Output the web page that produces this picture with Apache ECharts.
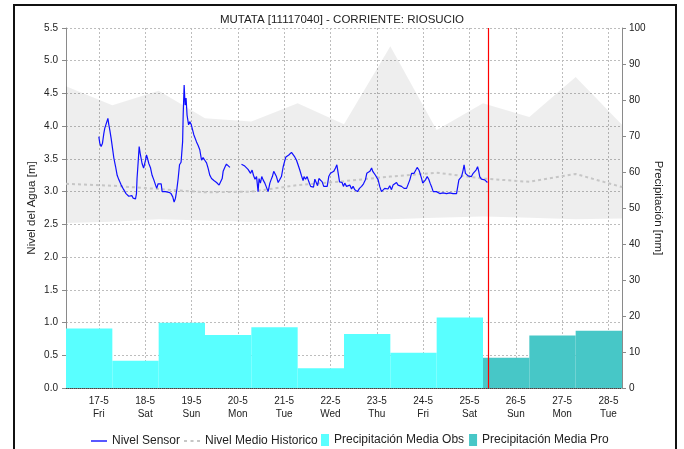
<!DOCTYPE html>
<html>
<head>
<meta charset="utf-8">
<script src="https://cdn.jsdelivr.net/npm/echarts@6/dist/echarts.min.js"></script>
<style>
  html, body { margin: 0; padding: 0; background: #fff; }
  #chart { width: 684px; height: 449px; }
</style>
</head>
<body>
<div id="chart"></div>
<script>
// Station hydrograph: sensor level, historic band, daily precipitation
const chartTitle = 'MUTATA [11117040] - CORRIENTE: RIOSUCIO';

// Day labels (ticks at 00:00 of each day)
const dayDates = ['17-5', '18-5', '19-5', '20-5', '21-5', '22-5', '23-5', '24-5', '25-5', '26-5', '27-5', '28-5'];
const dayNames = ['Fri', 'Sat', 'Sun', 'Mon', 'Tue', 'Wed', 'Thu', 'Fri', 'Sat', 'Sun', 'Mon', 'Tue'];

// Time is in hours counted from 17-5 00:00; the axis runs 16-5 07:00 .. 28-5 07:00
const axisStartHour = -17;
const axisEndHour = 271;
const nowHour = 201.6;

// Historic statistics (07:00 of each day)
const histHour = [-17, 7, 31, 55, 79, 103, 127, 151, 175, 199, 223, 247, 271];
const histMin  = [2.52, 2.54, 2.58, 2.56, 2.54, 2.56, 2.57, 2.58, 2.60, 2.62, 2.60, 2.58, 2.59];
const histMax  = [4.61, 4.32, 4.54, 4.12, 4.07, 4.35, 4.03, 5.22, 3.94, 4.35, 4.14, 4.75, 4.02];
const histMean = [3.12, 3.09, 3.04, 2.99, 3.00, 3.10, 3.16, 3.23, 3.29, 3.20, 3.15, 3.27, 3.07];

// Sensor readings
const sensorHour = [
  0, 0.5, 1.2, 1.9, 2.6, 3.1, 3.6, 4.1, 4.7, 5.2,
  5.7, 6.4, 7.1, 7.8, 8.7, 9.5, 10.4, 11.6, 12.9, 14.1,
  15.5, 16.4, 17.1, 17.8, 19.0, 19.5, 19.8, 20.4, 20.9, 21.4,
  21.9, 22.4, 23.2, 23.7, 24.2, 24.7, 25.2, 25.9, 26.8, 27.6,
  28.5, 29.4, 30.0, 30.7, 31.4, 32.3, 32.8, 33.7, 34.5, 36.3,
  37.4, 38.3, 39.0, 39.7, 40.4, 41.1, 41.8, 42.6, 43.4, 43.7,
  44.2, 44.7, 45.2, 45.7, 46.5, 47.1, 47.8, 48.7, 49.2, 49.7,
  50.6, 51.4, 52.3, 53.2, 54.0, 54.9, 55.8, 56.6, 57.5, 58.4,
  59.6, 61.0, 62.3, 63.2, 63.9, 64.4, 64.9, 65.4, 66.1, 67.0,
  67.9, 70.9, 73.9, 74.7, 75.6, 76.5, 77.3, 77.8, 78.6, 79.4,
  80.1, 80.9, 81.7, 82.5, 83.0, 83.7, 84.4, 85.1, 86.0, 86.9,
  87.7, 88.6, 89.2, 89.9, 90.6, 91.3, 92.0, 92.9, 93.8, 94.6,
  95.5, 96.2, 96.9, 97.5, 98.4, 99.8, 100.6, 101.5, 102.4, 103.2,
  104.1, 105.0, 105.8, 106.3, 107.1, 107.9, 108.8, 109.7, 110.5, 111.2,
  111.9, 112.6, 113.3, 114.0, 114.8, 115.7, 116.5, 117.4, 118.3, 119.1,
  120.0, 120.8, 121.7, 122.6, 123.3, 124.0, 124.7, 125.3, 126.0, 126.7,
  127.4, 128.3, 129.1, 130.0, 130.9, 131.7, 132.6, 134.0, 135.0, 136.1,
  137.1, 138.1, 138.8, 139.5, 140.4, 141.3, 141.9, 142.6, 143.3, 144.0,
  144.7, 145.5, 146.4, 147.3, 148.1, 149.0, 149.8, 150.7, 151.6, 152.4,
  153.3, 154.2, 155.0, 155.9, 156.8, 158.1, 159.4, 160.2, 161.1, 162.0,
  162.8, 163.3, 164.2, 164.9, 165.8, 166.4, 167.2, 167.8, 168.5, 169.2,
  170.1, 170.9, 171.6, 172.3, 173.2, 174.0, 174.9, 175.7, 176.6, 177.5,
  178.3, 179.2, 180.1, 180.9, 181.8, 182.7, 183.5, 184.4, 185.3, 185.8,
  186.5, 187.1, 187.9, 188.7, 189.2, 189.9, 190.6, 191.3, 192.2, 193.0,
  193.9, 194.8, 195.4, 196.2, 196.8, 197.3, 198.2, 199.1, 199.9, 200.8,
  201.3
];
const sensorLevel = [
  3.84, 3.74, 3.69, 3.74, 3.89, 3.97, 3.94, 3.99, 4.12, 4.02,
  3.94, 3.81, 3.66, 3.51, 3.38, 3.25, 3.18, 3.10, 3.03, 2.97,
  2.93, 2.91, 2.94, 2.90, 2.89, 2.97, 3.20, 3.46, 3.69, 3.59,
  3.56, 3.43, 3.36, 3.38, 3.48, 3.56, 3.51, 3.43, 3.36, 3.25,
  3.18, 3.10, 3.05, 3.12, 3.10, 3.12, 3.00, 2.99, 3.00, 2.99,
  2.97, 2.92, 2.84, 2.90, 3.03, 3.20, 3.41, 3.45, 3.76, 4.17,
  4.63, 4.32, 4.43, 4.17, 4.02, 4.07, 4.03, 4.03, 3.87, 3.84,
  3.76, 3.71, 3.64, 3.48, 3.52, 3.48, 3.44, 3.36, 3.25, 3.20,
  3.17, 3.14, 3.10, 3.08, 3.20, 3.31, 3.28, 3.38, 3.42, 3.41,
  3.37, null, 3.42, 3.41, 3.39, 3.42, 3.34, 3.37, 3.28, 3.33,
  3.25, 3.19, 3.23, 3.00, 3.20, 3.13, 3.23, 3.18, 3.13, 3.10,
  3.00, 3.13, 3.18, 3.23, 3.31, 3.28, 3.23, 3.14, 3.13, 3.23,
  3.38, 3.46, 3.53, 3.56, 3.56, 3.60, 3.58, 3.53, 3.48, 3.41,
  3.33, 3.24, 3.17, 3.23, 3.19, 3.23, 3.15, 3.08, 3.10, 3.07,
  3.19, 3.14, 3.09, 3.20, 3.22, 3.15, 3.08, 3.05, 3.08, 3.23,
  3.28, 3.25, 3.31, 3.36, 3.41, 3.28, 3.15, 3.13, 3.14, 3.08,
  3.13, 3.08, 3.05, 3.10, 3.04, 3.08, 3.03, 3.00, 3.05, 3.08,
  3.12, 3.18, 3.28, 3.25, 3.31, 3.36, 3.31, 3.33, 3.25, 3.23,
  3.18, 3.08, 3.00, 3.03, 3.05, 3.08, 3.04, 3.09, 3.03, 3.10,
  3.08, 3.14, 3.10, 3.13, 3.08, 3.05, 3.05, 3.08, 3.18, 3.28,
  3.31, 3.28, 3.33, 3.37, 3.33, 3.28, 3.20, 3.13, 3.15, 3.18,
  3.23, 3.19, 3.13, 3.08, 3.00, 3.03, 3.00, 3.03, 2.97, 3.00,
  2.98, 3.00, 2.97, 3.00, 2.98, 2.95, 2.97, 2.98, 2.97, 3.00,
  3.18, 3.20, 3.23, 3.33, 3.41, 3.28, 3.25, 3.24, 3.25, 3.23,
  3.28, 3.31, 3.33, 3.38, 3.31, 3.23, 3.19, 3.20, 3.18, 3.15,
  3.14
];

// Daily precipitation (mm), one value per 07:00-07:00 day
const precipDays = ['16-5', '17-5', '18-5', '19-5', '20-5', '21-5', '22-5', '23-5', '24-5', '25-5', '26-5', '27-5'];
const precipObs = [16.5, 7.6, 18.1, 14.7, 16.9, 5.5, 15.0, 9.8, 19.6, null, null, null];
const precipPro = [null, null, null, null, null, null, null, null, null, 8.4, 14.6, 15.9];

const FONT = '"Liberation Sans", Arial, sans-serif';
const gridDots = { color: '#bdbdbd', type: [2, 2], width: 1 };

// Hourly slots used for the day ticks and vertical grid lines
const hourSlots = [];
for (let h = axisStartHour; h <= axisEndHour; h++) hourSlots.push(String(h));
const isMidnight = (i) => (i + axisStartHour) % 24 === 0 && i + axisStartHour >= 0;

const chart = echarts.init(document.getElementById('chart'), null, { renderer: 'canvas' });

chart.setOption({
  animation: false,
  backgroundColor: '#fff',
  textStyle: { fontFamily: FONT },
  title: {
    text: chartTitle,
    left: 'center',
    top: 9,
    textStyle: { fontFamily: FONT, fontSize: 11.5, fontWeight: 'normal', color: '#222' }
  },
  graphic: [{
    type: 'rect',
    shape: { x: 14, y: 5, width: 662, height: 460 },
    style: { fill: 'none', stroke: '#111', lineWidth: 2 },
    silent: true, z: 100
  }],
  grid: { left: 66, right: 62, top: 28, bottom: 61, containLabel: false },
  legend: [{
    left: 91, top: 435, padding: 0,
    itemWidth: 16, itemHeight: 10, itemGap: 4,
    textStyle: { fontFamily: FONT, fontSize: 12, color: '#222' },
    itemStyle: { borderWidth: 0 },
    data: [
      { name: 'Nivel Sensor', icon: 'path://M0,0h16v1.4h-16z' },
      { name: 'Nivel Medio Historico', icon: 'path://M0,0h3v2h-3z M6.5,0h3v2h-3z M13,0h3v2h-3z' }
    ]
  }, {
    left: 321, top: 434, padding: 0,
    itemWidth: 8, itemHeight: 12, itemGap: 5,
    icon: 'rect',
    textStyle: { fontFamily: FONT, fontSize: 12, color: '#222' },
    itemStyle: { borderWidth: 0 },
    data: ['Precipitación Media Obs', 'Precipitación Media Pro']
  }],
  xAxis: [{
    // continuous time axis carrying the line series
    type: 'value', position: 'bottom',
    min: axisStartHour, max: axisEndHour,
    show: false
  }, {
    // daily precipitation periods
    type: 'category', position: 'bottom',
    data: precipDays, boundaryGap: true,
    show: false
  }, {
    // day ticks at midnight
    type: 'category', position: 'bottom',
    data: hourSlots, boundaryGap: false,
    axisLine: { show: true, onZero: false, lineStyle: { color: '#444', type: [1, 1], width: 1 } },
    axisTick: { show: false },
    splitLine: { show: true, interval: (i) => isMidnight(i), lineStyle: gridDots },
    axisLabel: {
      interval: (i) => isMidnight(i),
      formatter: (v) => {
        const d = Number(v) / 24;
        return dayDates[d] + '\n' + dayNames[d];
      },
      fontFamily: FONT, fontSize: 10, color: '#222', lineHeight: 12.5, margin: 7
    }
  }],
  yAxis: [{
    type: 'value', position: 'left',
    min: 0, max: 5.5, interval: 0.5,
    name: 'Nivel del Agua [m]', nameLocation: 'middle', nameGap: 28, nameMoveOverlap: false,
    nameTextStyle: { fontFamily: FONT, fontSize: 11.5, color: '#222' },
    axisLine: { show: true, onZero: false, lineStyle: { color: '#8a8a8a' } },
    axisTick: { show: true, length: 4, lineStyle: { color: '#8a8a8a' } },
    axisLabel: { formatter: (v) => v.toFixed(1), fontFamily: FONT, fontSize: 10, color: '#222', margin: 8 },
    splitLine: { show: true, lineStyle: gridDots }
  }, {
    type: 'value', position: 'right',
    min: 0, max: 100, interval: 10,
    name: 'Precipitación [mm]', nameLocation: 'middle', nameGap: 30, nameRotate: -90, nameMoveOverlap: false,
    nameTextStyle: { fontFamily: FONT, fontSize: 11.5, color: '#222' },
    axisLine: { show: true, onZero: false, lineStyle: { color: '#8a8a8a' } },
    axisTick: { show: true, length: 4, lineStyle: { color: '#8a8a8a' } },
    axisLabel: { fontFamily: FONT, fontSize: 10, color: '#222', margin: 7 },
    splitLine: { show: false }
  }],
  series: [{
    name: 'Precipitación Media Obs',
    type: 'bar', xAxisIndex: 1, yAxisIndex: 1,
    data: precipObs,
    barCategoryGap: '0%', barGap: '-100%',
    itemStyle: { color: '#59ffff' },
    silent: true
  }, {
    name: 'Precipitación Media Pro',
    type: 'bar', xAxisIndex: 1, yAxisIndex: 1,
    data: precipPro,
    barCategoryGap: '0%', barGap: '-100%',
    itemStyle: { color: '#47c7c7' },
    silent: true
  }, {
    // historic min-max envelope drawn as one polygon through the axis scales
    name: 'histBand',
    type: 'custom', xAxisIndex: 0, yAxisIndex: 0,
    data: histHour.map((h, i) => [h, histMin[i], histMax[i]]),
    encode: { x: 0, y: [1, 2] },
    silent: true,
    renderItem: (params, api) => {
      if (params.dataIndex !== 0) return null;
      const pts = [];
      for (let i = 0; i < histHour.length; i++) pts.push(api.coord([histHour[i], histMax[i]]));
      for (let i = histHour.length - 1; i >= 0; i--) pts.push(api.coord([histHour[i], histMin[i]]));
      return { type: 'polygon', shape: { points: pts }, style: { fill: 'rgba(0,0,0,0.065)' } };
    }
  }, {
    name: 'Nivel Medio Historico',
    type: 'line', xAxisIndex: 0, yAxisIndex: 0,
    data: histHour.map((h, i) => [h, histMean[i]]),
    symbol: 'none',
    color: '#c6c6c6',
    lineStyle: { color: '#c6c6c6', width: 2, type: [3, 3] },
    silent: true
  }, {
    name: 'Nivel Sensor',
    type: 'line', xAxisIndex: 0, yAxisIndex: 0,
    data: sensorHour.map((h, i) => [h, sensorLevel[i] == null ? '-' : sensorLevel[i]]),
    symbol: 'none',
    color: '#1010ff',
    lineStyle: { color: '#1010ff', width: 1.2 },
    connectNulls: false,
    silent: true,
    markLine: {
      silent: true, symbol: 'none',
      label: { show: false },
      lineStyle: { color: '#ff0000', type: 'solid', width: 1.2 },
      data: [{ xAxis: nowHour }],
      z: 20
    }
  }]
});
</script>
</body>
</html>
